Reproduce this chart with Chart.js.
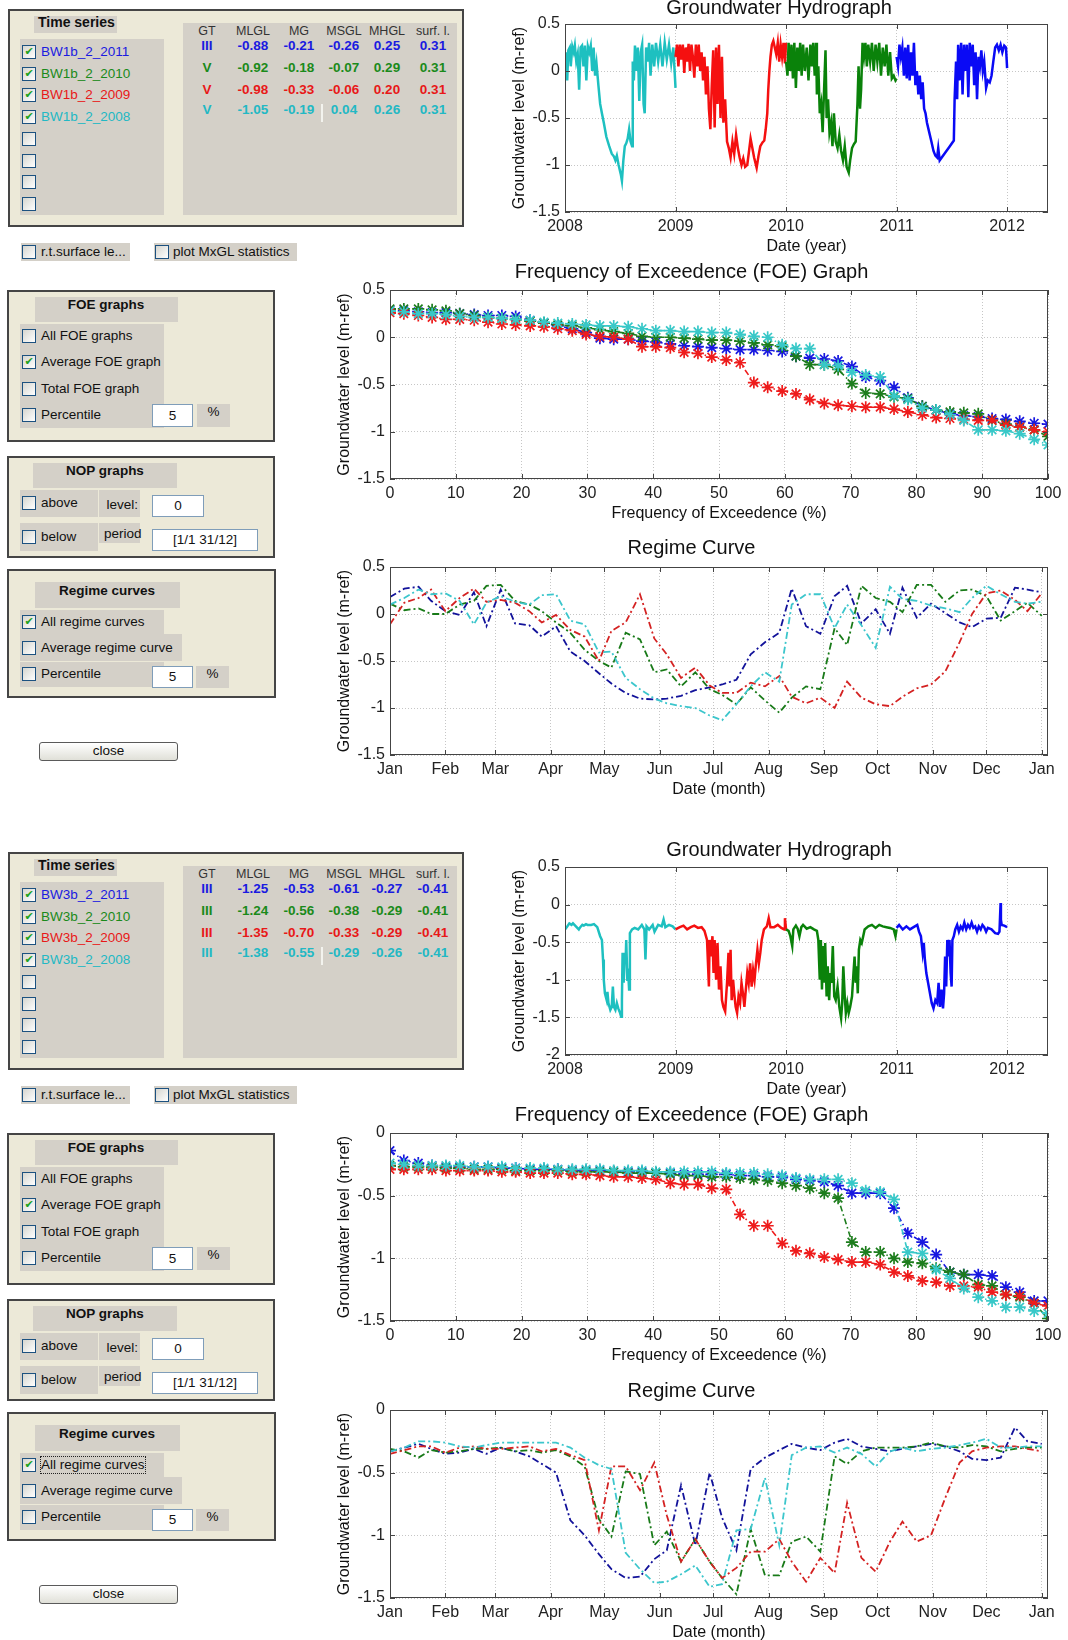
<!DOCTYPE html>
<html>
<head>
<meta charset="utf-8">
<title>Groundwater statistics</title>
<script src="https://cdn.jsdelivr.net/npm/chart.js@4.4.0/dist/chart.umd.min.js"></script>
<style>
  body { margin: 0; background: #fff; }
  #page { position: relative; width: 1068px; height: 1640px; overflow: hidden; font-family: "Liberation Sans", Arial, sans-serif; color: #111; }
  #page div, #page canvas { position: absolute; box-sizing: border-box; }
  .panel { background: #ece9d8; border: 2px solid #454545; }
  .grey { background: #d4d0c8; }
  .cb { border: 1px solid #1c5180; background: linear-gradient(135deg, #d6d6d0, #ffffff); color: #21a121; font: bold 11px "DejaVu Sans", sans-serif; line-height: 12px; text-align: center; }
  .t { white-space: nowrap; font-size: 13.5px; line-height: 16px; }
  .edit { background: #fff; border: 1px solid #7f9db9; text-align: center; }
  .btn { border: 1px solid #5a5a5a; border-radius: 3px; background: linear-gradient(#ffffff, #e0e0d8); font-size: 13.5px; text-align: center; line-height: 16px; }
</style>
</head>
<body>
<div id="page"></div>
<script>
// ---- data ----
const seriesColors = ['#1a1ae0', '#1a8a1a', '#e81818', '#22b8c4'];
const tsNamesTop = ['BW1b_2_2011', 'BW1b_2_2010', 'BW1b_2_2009', 'BW1b_2_2008'];
const tsNamesBottom = ['BW3b_2_2011', 'BW3b_2_2010', 'BW3b_2_2009', 'BW3b_2_2008'];
const tableHeads = ['GT', 'MLGL', 'MG', 'MSGL', 'MHGL', 'surf. l.'];
const tableTop = [
  ['III', '-0.88', '-0.21', '-0.26', '0.25', '0.31'],
  ['V', '-0.92', '-0.18', '-0.07', '0.29', '0.31'],
  ['V', '-0.98', '-0.33', '-0.06', '0.20', '0.31'],
  ['V', '-1.05', '-0.19', '0.04', '0.26', '0.31']
];
const tableBottom = [
  ['III', '-1.25', '-0.53', '-0.61', '-0.27', '-0.41'],
  ['III', '-1.24', '-0.56', '-0.38', '-0.29', '-0.41'],
  ['III', '-1.35', '-0.70', '-0.33', '-0.29', '-0.41'],
  ['III', '-1.38', '-0.55', '-0.29', '-0.26', '-0.41']
];
const foeOptions = ['All FOE graphs', 'Average FOE graph', 'Total FOE graph', 'Percentile'];
const regimeOptions = ['All regime curves', 'Average regime curve', 'Percentile'];

// tick labels
const yearTicks = [2008, 2009, 2010, 2011, 2012];
const yearLabels = ['2008', '2009', '2010', '2011', '2012'];
const pctTicks = [0, 10, 20, 30, 40, 50, 60, 70, 80, 90, 100];
const pctLabels = ['0', '10', '20', '30', '40', '50', '60', '70', '80', '90', '100'];
const monthTicks = [0, 31, 59, 90, 120, 151, 181, 212, 243, 273, 304, 334, 365];
const monthLabels = ['Jan', 'Feb', 'Mar', 'Apr', 'May', 'Jun', 'Jul', 'Aug', 'Sep', 'Oct', 'Nov', 'Dec', 'Jan'];
const levelTicksA = [0.5, 0, -0.5, -1, -1.5];
const levelLabelsA = ['0.5', '0', '-0.5', '-1', '-1.5'];
const levelTicksB = [0.5, 0, -0.5, -1, -1.5, -2];
const levelLabelsB = ['0.5', '0', '-0.5', '-1', '-1.5', '-2'];
const levelTicksC = [0, -0.5, -1, -1.5];
const levelLabelsC = ['0', '-0.5', '-1', '-1.5'];

// hydrographs: [fraction of the year, level]
const hydroTop2008 = [[0,-0.02],[.010,0.20],[.020,-0.10],[.030,0.22],[.043,0.25],[.052,0.05],[.066,0.26],[.079,0.20],[.089,0.27],[.102,0.10],[.115,0.18],[.128,-0.20],[.141,0.25],[.154,0.27],[.167,0.05],[.180,0.27],[.193,-0.10],[.207,0.26],[.220,0.20],[.233,0.27],[.246,0.00],[.259,0.25],[.272,-0.05],[.285,0.08],[.302,-0.15],[.318,-0.35],[.334,-0.45],[.351,-0.55],[.374,-0.70],[.400,-0.80],[.423,-0.88],[.443,-0.91],[.456,-0.95],[.469,-0.90],[.485,-1.00],[.505,-1.10],[.515,-1.17],[.528,-0.95],[.541,-0.80],[.554,-0.77],[.567,-0.72],[.580,-0.62],[.593,-0.75],[.607,-0.80],[.613,0.10],[.623,-0.10],[.633,0.27],[.646,0.00],[.659,0.25],[.672,-0.32],[.685,0.20],[.698,0.28],[.711,-0.35],[.721,-0.45],[.734,0.25],[.748,0.10],[.761,0.30],[.774,-0.05],[.790,0.28],[.807,0.05],[.823,0.30],[.843,0.10],[.862,0.28],[.882,0.05],[.902,0.30],[.921,0.12],[.941,0.28],[.961,0.08],[.980,0.25],[1,-0.18]];
const hydroTop2009 = [[0,0.15],[.013,0.28],[.026,0.05],[.039,0.28],[.052,0.12],[.066,0.28],[.079,-0.02],[.092,0.25],[.105,0.10],[.118,0.29],[.131,0.00],[.144,0.28],[.157,0.15],[.170,-0.07],[.184,0.28],[.197,0.05],[.210,0.28],[.223,0.00],[.236,0.20],[.249,-0.10],[.262,0.15],[.275,-0.25],[.289,0.05],[.302,-0.40],[.315,-0.62],[.328,-0.15],[.341,0.22],[.354,-0.60],[.367,0.25],[.380,-0.35],[.393,0.28],[.407,-0.50],[.420,0.15],[.433,-0.55],[.449,-0.30],[.466,-0.75],[.482,-0.82],[.498,-0.92],[.515,-0.75],[.531,-0.88],[.548,-0.68],[.564,-0.82],[.580,-0.92],[.597,-1.00],[.613,-0.93],[.630,-1.02],[.649,-1.00],[.662,-0.88],[.679,-0.72],[.695,-0.82],[.711,-0.92],[.734,-1.03],[.751,-0.90],[.767,-0.80],[.787,-0.76],[.803,-0.74],[.816,-0.62],[.830,-0.45],[.839,-0.20],[.849,0.00],[.859,0.15],[.872,0.28],[.885,0.32],[.898,0.25],[.911,0.18],[.925,0.30],[.938,0.10],[.951,0.28],[.964,0.15],[.977,0.30],[.990,0.08],[1,0.30]];
const hydroTop2010 = [[0,0.10],[.013,-0.05],[.023,0.30],[.036,0.00],[.049,0.28],[.062,-0.08],[.075,0.30],[.089,-0.18],[.102,0.25],[.115,0.00],[.128,0.30],[.141,-0.05],[.154,0.28],[.170,0.00],[.187,0.25],[.203,-0.10],[.220,0.28],[.233,0.05],[.246,0.30],[.259,-0.05],[.272,0.30],[.279,-0.25],[.292,0.05],[.305,-0.45],[.318,-0.35],[.331,-0.65],[.344,-0.20],[.357,0.22],[.367,-0.50],[.380,-0.30],[.393,-0.65],[.407,-0.55],[.420,-0.80],[.433,-0.45],[.449,-0.75],[.466,-0.82],[.482,-0.68],[.498,-0.85],[.515,-0.95],[.531,-0.80],[.548,-1.02],[.567,-1.08],[.580,-0.95],[.597,-0.82],[.613,-0.78],[.630,-0.75],[.646,-0.35],[.656,0.05],[.669,-0.40],[.679,-0.20],[.692,0.30],[.705,0.15],[.718,0.30],[.731,0.05],[.744,0.28],[.761,0.10],[.777,0.30],[.793,0.00],[.810,0.28],[.826,0.10],[.843,0.30],[.859,-0.05],[.875,0.25],[.892,0.05],[.908,0.28],[.925,-0.05],[.941,0.20],[.957,-0.08],[.974,-0.05],[.990,-0.10],[1,-0.08]];
const hydroTop2011 = [[0,0.15],[.013,0.05],[.026,0.28],[.039,0.15],[.052,0.25],[.066,-0.05],[.079,0.25],[.092,-0.08],[.105,0.28],[.118,-0.10],[.131,0.20],[.144,-0.05],[.157,0.30],[.170,-0.15],[.184,0.00],[.197,-0.25],[.210,-0.05],[.223,-0.30],[.236,-0.12],[.249,-0.40],[.262,-0.45],[.275,-0.55],[.295,-0.65],[.315,-0.75],[.334,-0.85],[.351,-0.90],[.367,-0.92],[.377,-0.82],[.390,-0.95],[.433,-0.88],[.482,-0.80],[.518,-0.74],[.525,-0.30],[.538,0.10],[.548,-0.30],[.557,0.28],[.570,-0.10],[.584,0.30],[.597,-0.25],[.610,0.28],[.623,0.00],[.636,0.28],[.649,-0.28],[.662,0.30],[.675,0.05],[.689,0.28],[.702,-0.15],[.715,0.20],[.728,-0.30],[.741,0.15],[.754,0.05],[.767,0.22],[.780,0.00],[.793,0.10],[.810,-0.18],[.826,-0.10],[.843,-0.12],[.859,-0.05],[.875,0.10],[.892,0.25],[.908,0.28],[.925,0.22],[.941,0.28],[.957,0.20],[.974,0.27],[.990,0.25],[1,0.03]];

const hydroBot2008 = [[0,-0.33],[.020,-0.29],[.039,-0.25],[.059,-0.27],[.072,-0.25],[.092,-0.28],[.105,-0.30],[.125,-0.33],[.138,-0.30],[.157,-0.27],[.170,-0.28],[.190,-0.26],[.203,-0.27],[.236,-0.27],[.262,-0.26],[.292,-0.30],[.318,-0.42],[.334,-0.47],[.344,-0.73],[.351,-1.00],[.361,-1.18],[.377,-1.27],[.384,-1.16],[.393,-1.31],[.410,-1.40],[.423,-1.36],[.433,-1.09],[.443,-1.36],[.456,-1.40],[.469,-1.31],[.482,-1.38],[.498,-1.44],[.508,-1.49],[.515,-1.27],[.521,-0.64],[.531,-1.04],[.541,-0.64],[.548,-0.78],[.554,-0.47],[.564,-1.00],[.570,-0.85],[.580,-1.13],[.587,-0.38],[.607,-0.33],[.630,-0.31],[.662,-0.33],[.695,-0.27],[.718,-0.33],[.728,-0.73],[.738,-0.29],[.761,-0.33],[.793,-0.27],[.810,-0.36],[.843,-0.27],[.875,-0.29],[.892,-0.20],[.908,-0.30],[.941,-0.27],[.974,-0.29],[1,-0.33]];
const hydroBot2009 = [[0,-0.33],[.039,-0.30],[.072,-0.28],[.105,-0.33],[.138,-0.30],[.170,-0.28],[.203,-0.31],[.236,-0.30],[.262,-0.35],[.285,-0.47],[.302,-1.09],[.308,-0.47],[.321,-0.69],[.334,-0.42],[.344,-0.91],[.354,-0.47],[.367,-1.00],[.380,-0.51],[.393,-1.13],[.407,-0.82],[.420,-1.27],[.433,-1.36],[.449,-1.42],[.466,-1.04],[.479,-0.64],[.489,-1.09],[.498,-0.60],[.508,-1.27],[.521,-1.00],[.531,-1.18],[.544,-1.36],[.557,-1.44],[.570,-1.22],[.584,-1.31],[.597,-1.04],[.610,-1.18],[.623,-1.36],[.636,-1.13],[.649,-0.91],[.662,-1.04],[.675,-0.78],[.689,-1.09],[.702,-0.87],[.715,-1.00],[.728,-0.78],[.741,-0.60],[.754,-0.78],[.767,-0.64],[.780,-0.47],[.800,-0.33],[.826,-0.29],[.843,-0.18],[.859,-0.30],[.892,-0.30],[.925,-0.27],[.957,-0.31],[.984,-0.33],[.990,-0.18],[1,-0.33]];
const hydroBot2010 = [[0,-0.33],[.023,-0.35],[.039,-0.42],[.056,-0.55],[.066,-0.33],[.089,-0.28],[.105,-0.32],[.121,-0.42],[.138,-0.30],[.154,-0.27],[.187,-0.32],[.220,-0.30],[.252,-0.33],[.279,-0.35],[.292,-0.47],[.305,-1.00],[.315,-0.47],[.325,-1.13],[.334,-0.55],[.344,-1.04],[.354,-0.51],[.367,-1.22],[.377,-0.82],[.390,-1.27],[.400,-0.91],[.410,-1.04],[.423,-0.55],[.436,-1.22],[.449,-1.27],[.466,-1.09],[.482,-1.36],[.498,-1.51],[.508,-1.31],[.518,-0.82],[.531,-1.22],[.541,-1.44],[.554,-1.31],[.567,-1.44],[.580,-1.36],[.597,-1.22],[.610,-0.91],[.620,-0.69],[.630,-1.04],[.639,-0.82],[.649,-1.18],[.659,-0.60],[.672,-0.47],[.685,-0.51],[.698,-0.42],[.711,-0.33],[.744,-0.29],[.777,-0.27],[.810,-0.31],[.843,-0.27],[.875,-0.29],[.908,-0.30],[.941,-0.31],[.974,-0.33],[.990,-0.42],[1,-0.33]];
const hydroBot2011 = [[0,-0.31],[.023,-0.27],[.056,-0.33],[.089,-0.29],[.121,-0.33],[.154,-0.30],[.187,-0.27],[.203,-0.36],[.220,-0.42],[.236,-0.64],[.246,-0.51],[.256,-0.73],[.269,-0.91],[.285,-1.04],[.302,-1.18],[.318,-1.31],[.334,-1.38],[.351,-1.27],[.367,-1.31],[.380,-1.04],[.393,-1.36],[.407,-1.13],[.420,-1.38],[.430,-1.18],[.439,-0.69],[.449,-1.09],[.459,-0.47],[.469,-0.69],[.479,-0.47],[.489,-0.91],[.498,-1.09],[.505,-0.47],[.518,-0.42],[.531,-0.33],[.548,-0.27],[.564,-0.36],[.580,-0.29],[.597,-0.33],[.613,-0.24],[.630,-0.33],[.646,-0.27],[.662,-0.31],[.679,-0.24],[.695,-0.31],[.711,-0.29],[.728,-0.36],[.744,-0.29],[.761,-0.33],[.777,-0.27],[.793,-0.30],[.810,-0.36],[.826,-0.31],[.859,-0.33],[.892,-0.38],[.918,-0.39],[.931,-0.36],[.941,0.02],[.944,-0.20],[.951,-0.27],[.974,-0.28],[1,-0.30]];

// frequency of exceedence (%)
const foePct = [0,2.1,4.3,6.4,8.5,10.6,12.8,14.9,17.0,19.1,21.3,23.4,25.5,27.7,29.8,31.9,34.0,36.2,38.3,40.4,42.6,44.7,46.8,48.9,51.1,53.2,55.3,57.4,59.6,61.7,63.8,66.0,68.1,70.2,72.3,74.5,76.6,78.7,80.9,83.0,85.1,87.2,89.4,91.5,93.6,95.7,97.9,100];
const foeTop2011 = [0.29,0.28,0.27,0.26,0.26,0.25,0.24,0.23,0.23,0.22,0.18,0.15,0.12,0.09,0.05,-0.01,-0.02,-0.02,-0.04,-0.05,-0.07,-0.09,-0.10,-0.11,-0.12,-0.13,-0.13,-0.14,-0.15,-0.20,-0.22,-0.23,-0.25,-0.31,-0.42,-0.46,-0.53,-0.64,-0.73,-0.77,-0.81,-0.83,-0.84,-0.86,-0.87,-0.89,-0.91,-0.92];
const foeTop2010 = [0.30,0.30,0.30,0.29,0.28,0.25,0.23,0.21,0.20,0.19,0.17,0.15,0.13,0.12,0.10,0.08,0.06,0.04,0.01,0.00,0.00,-0.01,-0.02,-0.03,-0.03,-0.04,-0.06,-0.08,-0.10,-0.20,-0.29,-0.29,-0.34,-0.49,-0.59,-0.60,-0.63,-0.65,-0.73,-0.77,-0.79,-0.80,-0.81,-0.88,-0.92,-0.95,-0.98,-1.05];
const foeTop2009 = [0.26,0.25,0.23,0.21,0.19,0.19,0.18,0.16,0.14,0.13,0.12,0.11,0.09,0.07,0.03,0.01,0.00,-0.02,-0.10,-0.10,-0.11,-0.16,-0.17,-0.21,-0.24,-0.27,-0.48,-0.53,-0.57,-0.60,-0.66,-0.70,-0.72,-0.73,-0.74,-0.74,-0.76,-0.79,-0.82,-0.85,-0.86,-0.87,-0.88,-0.88,-0.93,-0.95,-0.98,-1.00];
const foeTop2008 = [0.28,0.27,0.25,0.25,0.24,0.22,0.21,0.21,0.20,0.19,0.18,0.16,0.15,0.14,0.13,0.12,0.12,0.11,0.09,0.07,0.07,0.06,0.06,0.05,0.05,0.03,0.01,0.00,-0.08,-0.12,-0.12,-0.29,-0.30,-0.37,-0.40,-0.42,-0.62,-0.66,-0.75,-0.77,-0.82,-0.88,-0.98,-0.98,-0.99,-1.02,-1.08,-1.14];
const foeBot2011 = [-0.14,-0.22,-0.24,-0.26,-0.27,-0.27,-0.27,-0.27,-0.28,-0.28,-0.29,-0.29,-0.29,-0.30,-0.30,-0.30,-0.31,-0.31,-0.31,-0.32,-0.32,-0.33,-0.33,-0.33,-0.33,-0.34,-0.34,-0.35,-0.35,-0.37,-0.38,-0.39,-0.42,-0.48,-0.48,-0.48,-0.60,-0.80,-0.87,-0.97,-1.11,-1.13,-1.13,-1.14,-1.23,-1.27,-1.34,-1.34];
const foeBot2010 = [-0.26,-0.27,-0.27,-0.27,-0.28,-0.28,-0.29,-0.29,-0.29,-0.30,-0.30,-0.30,-0.30,-0.31,-0.31,-0.31,-0.31,-0.32,-0.32,-0.32,-0.33,-0.34,-0.34,-0.35,-0.35,-0.36,-0.37,-0.38,-0.40,-0.42,-0.44,-0.48,-0.52,-0.87,-0.95,-0.95,-1.00,-1.03,-1.04,-1.08,-1.11,-1.13,-1.21,-1.22,-1.29,-1.31,-1.36,-1.48];
const foeBot2009 = [-0.29,-0.29,-0.29,-0.29,-0.30,-0.30,-0.30,-0.30,-0.31,-0.31,-0.32,-0.32,-0.32,-0.33,-0.33,-0.34,-0.35,-0.35,-0.36,-0.37,-0.40,-0.41,-0.41,-0.44,-0.45,-0.65,-0.74,-0.74,-0.88,-0.94,-0.96,-0.99,-1.01,-1.03,-1.03,-1.05,-1.11,-1.14,-1.18,-1.19,-1.22,-1.22,-1.23,-1.27,-1.29,-1.30,-1.36,-1.38];
const foeBot2008 = [-0.24,-0.25,-0.26,-0.26,-0.26,-0.26,-0.27,-0.27,-0.27,-0.28,-0.28,-0.28,-0.29,-0.29,-0.29,-0.29,-0.30,-0.30,-0.30,-0.31,-0.31,-0.31,-0.31,-0.31,-0.32,-0.32,-0.32,-0.33,-0.34,-0.36,-0.37,-0.37,-0.37,-0.40,-0.46,-0.47,-0.53,-0.95,-0.96,-1.09,-1.16,-1.24,-1.31,-1.34,-1.39,-1.39,-1.42,-1.44];

// regime curves: day of year
const regimeDay = [0,8,16,23,31,39,47,54,62,70,78,85,93,101,109,117,124,132,140,148,155,163,171,179,186,194,202,210,218,225,233,241,249,256,264,272,280,287,295,303,311,319,326,334,342,350,357,365];
const regimeTop2011 = [0.18,0.27,0.29,0.14,0.03,-0.01,0.23,-0.13,0.26,-0.10,-0.12,-0.24,-0.13,-0.40,-0.50,-0.63,-0.74,-0.84,-0.90,-0.91,-0.90,-0.87,-0.81,-0.78,-0.75,-0.70,-0.43,-0.30,-0.20,0.27,-0.13,-0.21,0.19,0.30,-0.10,0.05,-0.21,0.28,-0.04,0.11,0.01,-0.09,-0.14,-0.05,-0.04,0.28,0.26,0.23];
const regimeTop2010 = [0.11,0.04,0.06,0.00,0.00,0.10,0.14,0.30,0.31,0.14,0.10,0.03,-0.09,-0.20,-0.38,-0.50,-0.57,-0.20,-0.27,-0.62,-0.59,-0.77,-0.62,-0.80,-0.86,-0.96,-0.78,-0.92,-1.05,-0.89,-0.77,-0.80,-0.15,-0.33,0.30,0.17,0.13,0.02,0.31,0.31,0.13,0.25,0.26,0.19,-0.07,0.03,0.12,-0.02];
const regimeTop2009 = [-0.11,0.12,0.17,0.26,0.03,0.17,0.27,0.13,0.15,0.12,0.03,-0.09,-0.01,-0.17,-0.24,-0.50,-0.18,-0.09,0.21,-0.26,-0.43,-0.68,-0.57,-0.76,-0.84,-0.84,-0.73,-0.77,-0.66,-0.88,-0.95,-0.89,-1.00,-0.72,-0.89,-0.96,-0.98,-0.88,-0.79,-0.75,-0.61,-0.30,0.00,0.22,0.25,0.15,0.03,0.22];
const regimeTop2008 = [0.10,0.17,0.26,0.21,0.22,0.14,-0.11,0.12,0.19,0.13,0.10,0.20,0.21,-0.07,-0.11,-0.41,-0.40,-0.68,-0.80,-0.90,-0.95,-0.98,-1.00,-1.08,-1.13,-0.96,-0.77,-0.62,-0.72,0.10,0.21,0.21,-0.15,0.10,-0.12,-0.36,0.29,0.16,0.14,0.09,0.06,0.02,0.17,0.30,0.21,0.13,0.11,0.13];
const regimeBot2011 = [-0.33,-0.30,-0.27,-0.31,-0.35,-0.34,-0.31,-0.35,-0.30,-0.33,-0.37,-0.43,-0.50,-0.88,-1.00,-1.15,-1.27,-1.34,-1.33,-1.19,-1.12,-0.60,-1.08,-0.50,-0.86,-1.12,-0.47,-0.38,-0.32,-0.27,-0.30,-0.32,-0.26,-0.23,-0.29,-0.31,-0.33,-0.31,-0.29,-0.27,-0.29,-0.33,-0.39,-0.40,-0.38,-0.14,-0.25,-0.27];
const regimeBot2010 = [-0.31,-0.33,-0.38,-0.32,-0.34,-0.33,-0.31,-0.31,-0.30,-0.33,-0.32,-0.34,-0.32,-0.37,-0.45,-0.87,-1.01,-0.49,-0.51,-1.08,-0.97,-1.21,-1.03,-1.21,-1.34,-1.47,-0.95,-1.32,-1.32,-1.05,-1.01,-1.13,-0.37,-0.43,-0.33,-0.30,-0.30,-0.30,-0.29,-0.26,-0.29,-0.30,-0.28,-0.29,-0.33,-0.31,-0.30,-0.30];
const regimeBot2009 = [-0.35,-0.32,-0.29,-0.29,-0.34,-0.30,-0.29,-0.31,-0.31,-0.30,-0.29,-0.33,-0.31,-0.36,-0.40,-0.96,-0.45,-0.45,-0.64,-0.42,-0.84,-1.21,-1.03,-1.21,-1.34,-1.26,-1.13,-1.13,-1.03,-1.21,-1.37,-1.18,-1.30,-0.74,-1.18,-1.29,-1.05,-0.89,-1.05,-1.00,-0.70,-0.42,-0.33,-0.30,-0.29,-0.29,-0.31,-0.33];
const regimeBot2008 = [-0.33,-0.30,-0.25,-0.25,-0.26,-0.29,-0.30,-0.28,-0.26,-0.26,-0.26,-0.26,-0.26,-0.30,-0.38,-0.44,-0.47,-1.14,-1.27,-1.38,-1.37,-1.31,-1.24,-1.41,-1.39,-0.96,-0.95,-0.54,-1.08,-0.36,-0.30,-0.29,-0.34,-0.30,-0.35,-0.45,-0.33,-0.30,-0.33,-0.31,-0.30,-0.28,-0.26,-0.23,-0.30,-0.30,-0.29,-0.29];

// ---- GUI panels ----
const page = document.getElementById('page');
const tableCols = [207, 253, 299, 344, 387, 433];
const tableRowsY = [46, 68, 90, 110];
const bold = {fontWeight: 'bold', fontSize: '13.5px'};

function add(x, y, w, h, cls, text, css) {
  const d = document.createElement('div');
  if (cls) d.className = cls;
  d.style.left = x + 'px';
  d.style.top = y + 'px';
  if (w != null) d.style.width = w + 'px';
  if (h != null) d.style.height = h + 'px';
  if (text != null) d.textContent = text;
  if (css) Object.assign(d.style, css);
  page.appendChild(d);
  return d;
}
function check(x, cy, on) { add(x, cy - 7, 14, 14, 'cb', on ? '\u2714' : ''); }
function label(x, cy, text, css) { return add(x, cy - 8, null, 16, 't', text, css); }
function centered(cx, cy, text, css) {
  return add(cx - 50, cy - 8, 100, 16, 't', text, Object.assign({textAlign: 'center'}, css));
}

function timeSeriesPanel(off, names, table) {
  add(8, 9 + off, 456, 218, 'panel');
  add(34, 16 + off, 83, 17, 'grey t', 'Time series', {fontWeight: 'bold', fontSize: '14px', paddingLeft: '4px', lineHeight: '13px'});
  add(20, 39 + off, 144, 176, 'grey');
  add(183, 23 + off, 274, 192, 'grey');
  for (let i = 0; i < 8; i++) {
    const cy = Math.round(52 + i * 21.7) + off;
    check(22, cy, i < names.length);
    if (i < names.length) label(41, cy, names[i], {color: seriesColors[i]});
  }
  tableHeads.forEach((h, j) => centered(tableCols[j], 31 + off, h, {fontSize: '12.5px', color: '#333'}));
  table.forEach((row, i) => row.forEach((v, j) =>
    centered(tableCols[j], tableRowsY[i] + off, v, Object.assign({color: seriesColors[i]}, bold))));
  add(321, 104 + off, 2, 18, null, null, {background: '#f3f3ee'});
  add(21, 243 + off, 109, 18, 'grey');
  check(22, 252 + off, false);
  label(41, 252 + off, 'r.t.surface le...');
  add(154, 243 + off, 143, 18, 'grey');
  check(155, 252 + off, false);
  label(173, 252 + off, 'plot MxGL statistics');
}

function optionPanels(off, focus) {
  // FOE graphs
  add(7, 290 + off, 268, 152, 'panel');
  add(35, 297 + off, 143, 25, 'grey');
  centered(106, 305 + off, 'FOE graphs', bold);
  add(20, 324 + off, 144, 78, 'grey');
  add(20, 402 + off, 144, 26, 'grey');
  [336, 362, 389, 415].forEach((cy, i) => { check(22, cy + off, i === 1); label(41, cy + off, foeOptions[i]); });
  add(152, 404 + off, 41, 23, 'edit t', '5', {lineHeight: '21px'});
  add(197, 404 + off, 33, 23, 'grey t', '%', {textAlign: 'center'});
  // NOP graphs
  add(7, 456 + off, 268, 102, 'panel');
  add(33, 463 + off, 144, 25, 'grey');
  centered(105, 471 + off, 'NOP graphs', bold);
  add(20, 490 + off, 78, 27, 'grey');
  check(22, 503 + off, false);
  label(41, 503 + off, 'above');
  add(99, 490 + off, 41, 27, 'grey');
  add(96, 497 + off, 42, 16, 't', 'level:', {textAlign: 'right'});
  add(152, 495 + off, 52, 22, 'edit t', '0', {lineHeight: '20px'});
  add(20, 523 + off, 78, 28, 'grey');
  check(22, 537 + off, false);
  label(41, 537 + off, 'below');
  add(99, 523 + off, 41, 20, 'grey');
  label(104, 534 + off, 'period');
  add(152, 529 + off, 106, 22, 'edit t', '[1/1 31/12]', {lineHeight: '20px'});
  // Regime curves
  add(7, 569 + off, 269, 129, 'panel');
  add(35, 582 + off, 145, 26, 'grey');
  centered(107, 591 + off, 'Regime curves', bold);
  add(20, 610 + off, 144, 24, 'grey');
  add(20, 634 + off, 162, 27, 'grey');
  add(20, 662 + off, 144, 25, 'grey');
  [622, 648, 674].forEach((cy, i) => {
    check(22, cy + off, i === 0);
    const l = label(41, cy + off, regimeOptions[i]);
    if (i === 0 && focus) l.style.outline = '1px dotted #222';
  });
  add(152, 666 + off, 41, 22, 'edit t', '5', {lineHeight: '20px'});
  add(196, 666 + off, 33, 22, 'grey t', '%', {textAlign: 'center'});
  add(39, 742 + off, 139, 19, 'btn', 'close');
}

timeSeriesPanel(0, tsNamesTop, tableTop);
optionPanels(0, false);
timeSeriesPanel(843, tsNamesBottom, tableBottom);
optionPanels(843, true);

// ---- charts ----
const FONT = '"Liberation Sans", Arial, sans-serif';
const years = [2011, 2010, 2009, 2008];
const hydroColors = ['#0a0af5', '#0a820a', '#f51010', '#1ec0c0'];
const foeColors = ['#1818e0', '#1d7d1d', '#ee1c1c', '#38c8c8'];
const regimeColors = ['#12129a', '#187a18', '#d42222', '#3cc6cc'];

// MATLAB style box with inward ticks on all four sides
const frame = {
  id: 'frame',
  afterDraw(chart) {
    const {ctx, chartArea: a} = chart;
    const sx = chart.scales.x, sy = chart.scales.y;
    ctx.save();
    ctx.strokeStyle = '#444';
    ctx.lineWidth = 1;
    ctx.beginPath();
    sx.ticks.forEach(t => {
      const p = Math.round(sx.getPixelForValue(t.value)) + 0.5;
      ctx.moveTo(p, a.bottom); ctx.lineTo(p, a.bottom - 5);
      ctx.moveTo(p, a.top); ctx.lineTo(p, a.top + 5);
    });
    sy.ticks.forEach(t => {
      const p = Math.round(sy.getPixelForValue(t.value)) + 0.5;
      ctx.moveTo(a.left, p); ctx.lineTo(a.left + 5, p);
      ctx.moveTo(a.right, p); ctx.lineTo(a.right - 5, p);
    });
    ctx.stroke();
    ctx.strokeRect(a.left + 0.5, a.top + 0.5, a.right - a.left - 1, a.bottom - a.top - 1);
    ctx.restore();
  }
};

function axis(min, max, ticks, labels, title, horizontal) {
  return {
    type: 'linear', min: min, max: max,
    afterBuildTicks: s => { s.ticks = ticks.map(v => ({value: v})); },
    afterFit: s => { if (horizontal) s.height = 44; else s.width = 55; },
    ticks: {autoSkip: false, maxRotation: 0, padding: 5, color: '#222', font: {family: FONT, size: 16},
      callback: v => labels[ticks.indexOf(v)]},
    grid: {color: '#c6c6c6', lineWidth: 1, drawTicks: false},
    border: {display: false, dash: [1, 2]},
    title: {display: true, text: title, color: '#111', font: {family: FONT, size: 16}, padding: 0}
  };
}

function plot(o) {
  const titleH = 24 + o.pad;
  const w = (o.R - o.L) + 75, h = titleH + (o.B - o.T) + 46;
  const c = document.createElement('canvas');
  c.width = w; c.height = h;
  c.style.left = (o.L - 55) + 'px';
  c.style.top = (o.T - titleH) + 'px';
  c.style.width = w + 'px';
  c.style.height = h + 'px';
  page.appendChild(c);
  return new Chart(c, {
    type: 'line',
    data: {datasets: o.datasets},
    options: {
      responsive: false, animation: false, events: [],
      layout: {padding: {left: 0, right: 20, top: 0, bottom: 2}},
      plugins: {
        legend: {display: false}, tooltip: {enabled: false},
        title: {display: true, text: o.title, color: '#111', font: {family: FONT, size: 20, weight: 'normal'}, padding: {top: 0, bottom: o.pad}}
      },
      scales: {
        x: axis(o.x[0], o.x[1], o.x[2], o.x[3], o.x[4], true),
        y: axis(o.y[0], o.y[1], o.y[2], o.y[3], 'Groundwater level (m-ref)', false)
      }
    },
    plugins: [frame]
  });
}

function hydroSets(series) {
  return series.map((pts, i) => ({
    data: pts.map(p => ({x: years[i] + p[0], y: p[1]})),
    borderColor: hydroColors[i], borderWidth: 2.5, pointRadius: 0, tension: 0
  }));
}
function foeSets(series) {
  // cyan first so it ends on top
  return [3, 2, 1, 0].map(i => ({
    data: foePct.map((x, k) => ({x: x, y: series[i][k]})),
    borderColor: foeColors[i], backgroundColor: foeColors[i], borderWidth: 1.6, borderDash: [6, 3, 1.5, 3],
    pointStyle: 'star', pointRadius: 6, pointBorderColor: foeColors[i], pointBorderWidth: 1.7
  }));
}
function regimeSets(series) {
  return [3, 2, 1, 0].map(i => ({
    data: regimeDay.map((x, k) => ({x: x, y: series[i][k]})),
    borderColor: regimeColors[i], borderWidth: 1.8, borderDash: [7, 3, 2, 3], pointRadius: 0, tension: 0
  }));
}

const yearAxis = [2008, 2012.37, yearTicks, yearLabels, 'Date (year)'];
const pctAxis = [0, 100, pctTicks, pctLabels, 'Frequency of Exceedence (%)'];
const monthAxis = [0, 368.5, monthTicks, monthLabels, 'Date (month)'];

plot({L: 565, T: 24, R: 1048, B: 212, pad: 4, title: 'Groundwater Hydrograph', x: yearAxis,
  y: [-1.5, 0.5, levelTicksA, levelLabelsA], datasets: hydroSets([hydroTop2011, hydroTop2010, hydroTop2009, hydroTop2008])});
plot({L: 390, T: 290, R: 1048, B: 479, pad: 6, title: 'Frequency of Exceedence (FOE) Graph', x: pctAxis,
  y: [-1.5, 0.5, levelTicksA, levelLabelsA], datasets: foeSets([foeTop2011, foeTop2010, foeTop2009, foeTop2008])});
plot({L: 390, T: 567, R: 1048, B: 755, pad: 7, title: 'Regime Curve', x: monthAxis,
  y: [-1.5, 0.5, levelTicksA, levelLabelsA], datasets: regimeSets([regimeTop2011, regimeTop2010, regimeTop2009, regimeTop2008])});

plot({L: 565, T: 867, R: 1048, B: 1055, pad: 5, title: 'Groundwater Hydrograph', x: yearAxis,
  y: [-2, 0.5, levelTicksB, levelLabelsB], datasets: hydroSets([hydroBot2011, hydroBot2010, hydroBot2009, hydroBot2008])});
plot({L: 390, T: 1133, R: 1048, B: 1321, pad: 6, title: 'Frequency of Exceedence (FOE) Graph', x: pctAxis,
  y: [-1.5, 0, levelTicksC, levelLabelsC], datasets: foeSets([foeBot2011, foeBot2010, foeBot2009, foeBot2008])});
plot({L: 390, T: 1410, R: 1048, B: 1598, pad: 7, title: 'Regime Curve', x: monthAxis,
  y: [-1.5, 0, levelTicksC, levelLabelsC], datasets: regimeSets([regimeBot2011, regimeBot2010, regimeBot2009, regimeBot2008])});
</script>
</body>
</html>
